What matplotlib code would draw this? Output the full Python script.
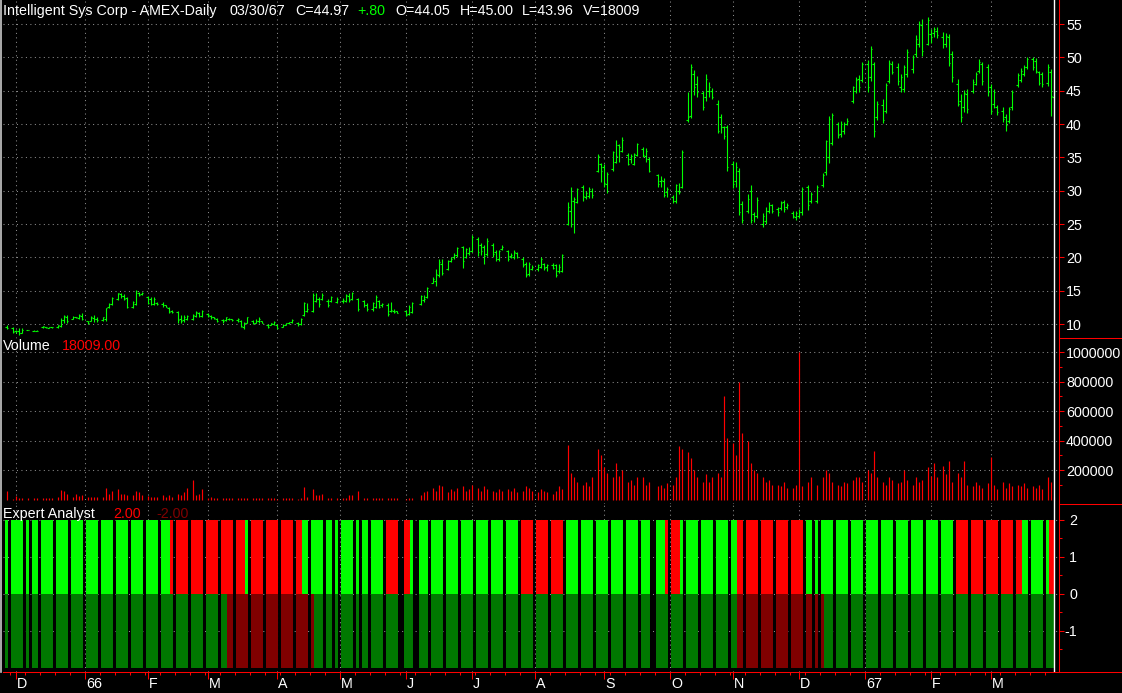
import numpy as np
import pandas as pd
import matplotlib

matplotlib.use("Agg")
import matplotlib.pyplot as plt
from matplotlib.lines import Line2D
from matplotlib.transforms import blended_transform_factory

N = None

# One row per week (Tue, Wed, Thu, Fri); None where there is no bar that day.
HIGH = [
    [N, N, N, 9.8], [9.6, 9.1, 9.35, 9.35], [9.15, N, 9.05, 9.05], [9.75, 9.55, 9.55, 9.6],
    [9.85, 10.85, 11.35, 11.35], [11.2, 11.1, 11.5, 11.7], [10.5, 11.2, 11.35, 11.0], [11.1, 12.45, 13.2, 14.1],
    [14.7, 14.7, 14.45, 14.1], [13.5, 15.1, 14.85, 14.75], [14.2, 14.0, 14.1, 13.35], [13.3, 12.85, 12.5, 12.1],
    [12.0, 11.35, 11.35, 11.35], [11.5, 11.95, 11.75, 12.1], [11.6, 11.3, 11.1, 10.85], [10.7, 11.1, 10.9, 10.8],
    [10.9, 10.6, 10.35, 11.1], [10.6, 10.7, 11.1, 10.5], [10.0, 10.2, 10.45, 10.0], [10.0, 10.2, 10.35, 10.7],
    [10.35, 10.85, 13.35, 13.2], [14.6, 14.6, 14.1, 14.6], [13.7, 14.2, N, 14.1], [13.85, 14.45, 14.6, 14.85],
    [13.85, N, 13.6, 13.1], [13.35, 14.35, 13.6, 13.2], [13.1, 13.35, 12.2, 12.0], [N, 12.1, 12.85, 13.35],
    [N, 14.35, 14.35, 15.6], [17.1, 18.2, 19.7, 19.7], [19.6, 20.1, 20.6, 21.6], [21.7, 21.45, 21.6, 23.35],
    [23.1, 22.1, 21.85, 22.85], [22.1, 21.1, 21.1, 21.85], [21.1, 20.6, 21.1, 20.85], [20.0, 19.35, 19.35, 18.85],
    [19.0, 20.0, 19.2, 19.0], [19.2, 19.0, 19.0, 20.5], [28.35, 30.6, 29.1, 30.35], [30.85, 30.0, 30.6, 30.35],
    [35.5, 34.1, 34.0, 32.8], [36.0, 37.6, 37.0, 38.0], [35.6, 35.5, 35.7, 37.2], [36.5, 36.35, 35.0, N],
    [32.5, 32.2, 31.85, 30.6], [29.35, 31.0, 31.1, 36.1], [44.85, 49.0, 48.1, 47.2], [44.95, 47.5, 46.3, 45.4],
    [43.6, 41.5, 39.7, 39.85], [34.45, 34.35, 33.45, 28.5], [29.5, 30.85, 26.85, 29.1], [26.6, 27.5, 28.25, 28.0],
    [27.5, 28.45, 28.6, 28.1], [26.95, 26.95, 27.25, 30.6], [30.85, 29.85, N, 30.85], [32.6, 37.6, 41.2, 41.6],
    [40.35, 40.45, 40.35, 40.85], [45.7, 47.1, 47.35, 49.35], [49.6, 51.7, 49.35, 43.5], [43.7, 46.1, 49.6, 49.5],
    [49.1, 47.5, 48.85, 51.2], [50.35, 53.35, 55.5, 55.7], [56.1, 54.2, 54.5, 54.5], [53.75, 53.7, 53.5, 51.0],
    [46.75, 44.5, 45.1, 45.2], [46.7, 47.85, 49.7, 49.35], [49.0, 46.0, 45.2, 42.85], [42.6, 41.5, 42.6, 45.1],
    [47.6, 48.35, 48.85, 50.1], [50.1, 49.85, 48.0, 47.85], [49.0, 48.2, 45.0, N],
]
LOW = [
    [N, N, N, 9.3], [8.6, 8.6, 8.35, 8.6], [9.05, N, 8.95, 8.95], [9.45, 9.45, 9.4, 9.45],
    [9.35, 9.6, 10.1, 10.1], [10.7, 10.9, 10.7, 10.6], [10.0, 10.4, 10.35, 10.35], [10.5, 10.5, 12.35, 12.85],
    [13.6, 13.85, 13.6, 12.35], [12.35, 12.85, 14.2, 14.35], [13.0, 12.85, 12.85, 12.85], [12.6, 12.5, 11.6, 11.6],
    [10.2, 10.2, 10.35, 10.6], [10.6, 11.0, 11.0, 11.1], [11.1, 10.8, 10.8, 10.35], [10.2, 10.5, 10.6, 10.5],
    [10.35, 9.5, 9.3, 10.1], [10.0, 10.1, 10.2, 10.1], [9.35, 9.85, 9.85, 9.2], [9.5, 9.85, 10.0, 10.2],
    [9.75, 9.85, 11.2, 11.85], [11.85, 13.35, 12.6, 13.6], [12.6, 13.35, N, 13.1], [13.2, 13.35, 13.35, 13.6],
    [12.0, N, 12.6, 12.0], [12.0, 12.35, 12.35, 12.6], [11.25, 11.85, 11.7, 11.6], [N, 11.25, 11.35, 11.6],
    [N, 12.85, 13.35, 13.85], [16.1, 15.7, 17.1, 17.35], [18.1, 19.35, 19.7, 20.1], [18.45, 19.85, 20.35, 20.85],
    [20.2, 20.35, 19.0, 20.2], [20.1, 19.5, 19.5, 21.1], [19.5, 19.85, 19.7, 19.85], [18.5, 17.1, 17.2, 18.1],
    [18.0, 18.35, 18.1, 18.0], [18.2, 17.1, 17.7, 17.85], [24.85, 24.6, 23.6, 28.1], [28.5, 28.7, 28.85, 28.85],
    [32.85, 31.35, 30.5, 29.6], [33.0, 34.1, 34.35, 35.85], [33.85, 34.2, 33.85, 35.2], [35.0, 34.35, 32.85, N],
    [30.5, 30.5, 29.1, 29.1], [28.1, 28.2, 29.5, 30.35], [40.35, 40.95, 44.35, 44.1], [42.1, 43.5, 44.0, 43.75],
    [38.6, 38.6, 37.7, 33.0], [30.45, 30.6, 26.35, 25.1], [26.7, 25.1, 25.35, 25.85], [24.5, 25.0, 26.6, 26.6],
    [26.25, 27.1, 26.85, 27.2], [25.85, 25.6, 25.85, 26.35], [27.1, 28.1, N, 28.2], [30.5, 32.35, 34.1, 36.85],
    [37.85, 38.0, 38.55, 39.85], [43.1, 44.6, 44.85, 46.35], [44.85, 46.5, 38.0, 40.6], [40.1, 41.6, 46.2, 47.5],
    [45.85, 44.85, 44.85, 47.0], [47.7, 50.1, 51.6, 50.25], [51.85, 52.1, 53.1, 52.85], [51.35, 51.6, 48.7, 46.35],
    [42.7, 40.35, 41.85, 41.7], [44.6, 45.85, 47.6, 45.85], [44.2, 41.5, 42.35, 41.35], [40.35, 39.0, 40.1, 42.1],
    [45.5, 46.35, 47.2, 48.2], [48.1, 47.6, 45.85, 45.5], [45.7, 41.2, 43.96, N],
]
OPEN = [
    [N, N, N, 9.6], [9.4, 8.9, 9.0, 8.7], [9.1, N, 9.0, 9.0], [9.5, 9.5, 9.45, 9.5],
    [9.5, 9.7, 10.6, 11.0], [10.8, 11.0, 10.9, 11.2], [10.4, 10.5, 10.9, 10.8], [10.6, 10.8, 12.5, 13.0],
    [13.8, 14.5, 14.2, 13.9], [12.5, 13.0, 14.6, 14.5], [14.0, 13.8, 13.0, 13.2], [13.0, 12.8, 12.4, 11.9],
    [11.8, 10.8, 10.6, 10.8], [10.8, 11.2, 11.6, 11.2], [11.5, 11.2, 11.0, 10.8], [10.6, 10.6, 10.8, 10.7],
    [10.6, 10.5, 9.6, 10.2], [10.5, 10.2, 10.4, 10.4], [9.9, 9.9, 10.0, 9.9], [9.6, 9.9, 10.1, 10.3],
    [10.2, 10.0, 11.3, 12.0], [12.0, 13.5, 13.8, 13.8], [13.5, 13.4, N, 13.3], [13.4, 13.5, 14.2, 13.8],
    [13.8, N, 13.4, 12.9], [12.2, 12.5, 13.4, 12.8], [12.9, 12.0, 12.0, 11.9], [N, 11.9, 11.5, 11.8],
    [N, 13.0, 13.6, 14.0], [16.2, 16.5, 17.3, 19.0], [18.3, 19.5, 20.0, 20.3], [21.5, 20.0, 20.6, 21.0],
    [22.8, 21.8, 21.5, 20.5], [21.8, 20.8, 19.8, 21.2], [20.9, 20.2, 20.0, 20.6], [19.8, 19.0, 17.5, 18.3],
    [18.3, 18.5, 19.0, 18.5], [18.8, 18.8, 17.9, 18.0], [25.0, 27.0, 28.5, 28.3], [30.5, 29.0, 29.2, 30.0],
    [33.0, 34.0, 33.5, 31.0], [33.2, 34.3, 36.8, 36.0], [35.4, 34.8, 34.0, 35.4], [36.3, 35.2, 34.8, N],
    [32.3, 31.5, 31.5, 29.8], [29.0, 28.5, 30.0, 30.5], [40.6, 41.2, 47.5, 46.0], [44.6, 44.0, 45.0, 45.0],
    [43.0, 41.0, 39.5, 39.5], [34.0, 31.5, 33.0, 28.0], [27.0, 30.0, 26.5, 26.2], [25.0, 25.5, 27.0, 27.8],
    [27.2, 27.4, 28.3, 27.5], [26.6, 26.0, 26.2, 26.8], [30.5, 28.5, N, 28.5], [30.8, 32.8, 35.0, 37.2],
    [40.0, 38.5, 39.0, 40.0], [43.5, 45.0, 46.8, 46.6], [49.0, 47.0, 49.0, 41.0], [42.8, 42.0, 46.5, 49.0],
    [48.5, 45.5, 45.2, 47.5], [48.2, 50.5, 52.0, 54.8], [52.0, 53.5, 53.6, 54.0], [53.0, 52.0, 53.0, 50.5],
    [46.0, 43.5, 42.5, 44.5], [45.0, 46.0, 48.0, 49.0], [48.5, 45.5, 43.0, 42.5], [42.0, 41.0, 40.5, 42.5],
    [45.8, 46.6, 47.5, 48.5], [49.8, 49.5, 47.8, 47.5], [46.2, 47.8, 44.05, N],
]
CLOSE = [
    [N, N, N, 9.4], [8.8, 8.9, 8.7, 9.1], [9.1, N, 9.0, 9.0], [9.7, 9.5, 9.5, 9.55],
    [9.8, 10.6, 11.2, 10.5], [11.1, 11.0, 11.3, 10.8], [10.2, 11.0, 10.8, 10.6], [11.0, 12.4, 13.0, 13.9],
    [14.6, 14.2, 13.8, 12.6], [13.3, 14.9, 14.4, 14.6], [13.2, 13.0, 13.8, 13.0], [12.8, 12.6, 11.8, 11.8],
    [10.6, 10.5, 11.0, 11.2], [11.3, 11.8, 11.2, 12.0], [11.3, 11.0, 10.9, 10.5], [10.4, 11.0, 10.7, 10.6],
    [10.8, 9.7, 10.2, 11.0], [10.2, 10.5, 10.8, 10.2], [9.5, 10.1, 10.3, 9.4], [9.9, 10.1, 10.3, 10.6],
    [10.0, 10.8, 13.2, 12.3], [14.4, 13.8, 13.0, 14.4], [12.8, 14.0, N, 13.8], [13.6, 14.3, 13.6, 14.7],
    [12.3, N, 12.8, 12.2], [13.1, 14.0, 12.6, 13.0], [11.5, 12.1, 11.8, 11.7], [N, 11.4, 12.6, 13.2],
    [N, 14.2, 13.8, 15.4], [16.8, 17.5, 19.3, 17.6], [19.4, 19.8, 20.4, 21.4], [19.5, 21.3, 21.0, 23.0],
    [20.8, 21.0, 20.2, 22.4], [20.5, 19.8, 20.9, 21.6], [19.8, 20.4, 20.8, 20.0], [18.8, 17.4, 19.0, 18.6],
    [18.8, 19.8, 18.4, 18.8], [18.4, 17.4, 18.6, 20.3], [27.5, 25.0, 28.8, 30.2], [29.2, 29.6, 30.3, 29.3],
    [35.2, 33.0, 31.2, 32.5], [35.8, 35.2, 36.5, 37.6], [34.0, 35.2, 35.5, 37.0], [35.4, 36.0, 33.0, N],
    [31.0, 31.6, 29.4, 30.3], [28.4, 30.8, 29.8, 35.8], [41.0, 48.5, 45.5, 44.8], [42.6, 46.8, 45.5, 44.0],
    [39.0, 39.5, 38.2, 33.5], [31.0, 33.5, 26.8, 25.6], [28.8, 25.6, 26.2, 28.6], [26.2, 27.0, 27.8, 26.9],
    [26.8, 28.2, 27.2, 27.8], [26.2, 26.6, 26.8, 30.3], [27.8, 29.5, N, 30.6], [32.3, 37.4, 40.8, 41.3],
    [38.3, 40.0, 40.0, 40.5], [45.5, 46.6, 45.5, 49.0], [45.5, 51.2, 39.0, 43.0], [40.6, 45.8, 49.2, 47.8],
    [46.5, 47.0, 48.5, 50.8], [50.0, 52.8, 55.0, 51.0], [55.6, 53.0, 54.2, 53.3], [52.0, 53.2, 49.2, 47.0],
    [43.0, 41.0, 44.6, 42.2], [46.3, 47.5, 49.3, 46.5], [44.8, 42.0, 44.8, 41.8], [40.8, 39.8, 42.3, 44.8],
    [47.3, 48.0, 48.6, 49.8], [48.5, 48.0, 46.2, 46.0], [48.6, 44.17, 44.97, N],
]
# daily volume, thousands of shares
VOLUME_K = [
    [N, N, N, 55], [5, 22, 8, 8], [8, N, 8, 8], [8, 8, 8, 8],
    [15, 65, 55, 40], [20, 35, 25, 30], [15, 20, 15, 20], [15, 80, 35, 60],
    [70, 35, 35, 30], [30, 55, 50, 30], [25, 20, 20, 20], [30, 20, 30, 15],
    [40, 30, 50, 80], [130, 30, 40, 70], [10, 15, 8, 8], [8, 8, 10, 8],
    [8, 10, 8, 8], [10, 8, 8, 10], [8, 10, 8, 5], [8, 10, 10, 10],
    [5, 10, 85, 20], [70, 30, 30, 40], [10, 10, N, 10], [10, 10, 30, 30],
    [60, N, 10, 10], [10, 10, 8, 8], [8, 10, 8, 8], [N, 5, 8, 10],
    [N, 30, 50, 60], [80, 60, 100, 90], [50, 70, 60, 80], [90, 60, 70, 100],
    [80, 60, 90, 70], [60, 50, 70, 60], [70, 60, 80, 50], [60, 90, 80, 60],
    [50, 70, 60, 50], [40, 60, 90, 70], [370, 180, 150, 120], [100, 120, 90, 150],
    [340, 300, 220, 180], [150, 250, 160, 200], [120, 130, 100, 150], [150, 100, 120, N],
    [90, 100, 80, 110], [100, 150, 360, 340], [320, 280, 200, 150], [120, 170, 120, 150],
    [180, 150, 700, 420], [380, 300, 800, 450], [400, 250, 200, 180], [150, 120, 130, 100],
    [100, 90, 120, 80], [80, 100, 1000, 90], [120, 150, N, 100], [150, 200, 180, 120],
    [100, 90, 120, 110], [130, 150, 150, 120], [200, 180, 330, 150], [120, 100, 150, 130],
    [110, 120, 200, 130], [100, 150, 120, 130], [220, 160, 250, 150], [230, 170, 260, 120],
    [180, 150, 260, 100], [90, 120, 100, 80], [110, 290, 100, 70], [120, 80, 110, 90],
    [100, 90, 110, 80], [90, 80, 100, 70], [150, 120, 18.009, N],
]
# Expert Analyst: upper half (G buy / R sell), lower half (g / r); "-" = no bar
EXPERT_UPPER = [
    "---G", "GGGG", "G-GG", "GGGG", "GGGG", "GGGG", "GGGG", "GGGG", "GGGG", "GGGG", "GGGG", "GGGR",
    "RRRR", "RRRR", "RRRR", "RRRR", "RRRG", "RRRR", "RRRR", "RRRR", "RRGG", "GGGG", "GG-G", "GGGG",
    "G-GG", "GGGG", "RRRR", "-RRG", "-GGG", "GGGG", "GGGG", "GGGG", "GGGG", "GGGG", "GGGG", "RRRR",
    "RRRR", "RRRR", "GGGG", "GGGG", "GGGG", "GGGG", "GGGG", "GGG-", "GGGR", "RRRG", "GGGG", "GGGG",
    "GGGG", "GGRR", "RRRR", "RRRR", "RRRR", "RRRR", "GG-G", "GGGG", "GGGG", "GGGG", "GGGG", "GGGG",
    "GGGG", "GGGG", "GGGG", "GGGG", "RRRR", "RRRR", "RRRR", "RRRR", "RRGG", "GGGG", "GRR-",
]
EXPERT_LOWER = [
    "---g", "gggg", "g-gg", "gggg", "gggg", "gggg", "gggg", "gggg", "gggg", "gggg", "gggg", "gggg",
    "gggg", "gggg", "gggg", "ggrr", "rrrr", "rrrr", "rrrr", "rrrr", "rrrr", "rggg", "gg-g", "gggg",
    "g-gg", "gggg", "gggg", "-ggg", "-ggg", "gggg", "gggg", "gggg", "gggg", "gggg", "gggg", "gggg",
    "gggg", "gggg", "gggg", "gggg", "gggg", "gggg", "gggg", "ggg-", "gggg", "gggg", "gggg", "gggg",
    "gggg", "ggrr", "rrrr", "rrrr", "rrrr", "rrrr", "rr-r", "rggg", "gggg", "gggg", "gggg", "gggg",
    "gggg", "gggg", "gggg", "gggg", "gggg", "gggg", "gggg", "gggg", "gggg", "gggg", "ggg-",
]
MONTH_LABELS = ["D", "66", "F", "M", "A", "M", "J", "J", "A", "S", "O", "N", "D", "67", "F", "M"]
PRICE_TICKS = [10, 15, 20, 25, 30, 35, 40, 45, 50, 55]
VOLUME_TICKS = [200000, 400000, 600000, 800000, 1000000]
EXPERT_TICKS = [2, 1, 0, -1]

HEADER = [
    ("Intelligent Sys Corp - AMEX-Daily", 3, "white"),
    ("03/30/67", 230, "white"),
    ("C=44.97", 295, "white"),
    ("+.80", 357, "#00ff00"),
    ("O=44.05", 395, "white"),
    ("H=45.00", 460, "white"),
    ("L=43.96", 522, "white"),
    ("V=18009", 583, "white"),
]

GREEN = "#00ff00"
RED = "#ff0000"
DARK_GREEN = "#007800"
DARK_RED = "#800000"
GRID = "#8c8c8c"
DOTS = (0, (1, 3.3))

plt.rcParams["font.family"] = ["Liberation Sans", "DejaVu Sans"]
plt.rcParams["axes.unicode_minus"] = False
FS = 10.3
W, H = 1122, 693
LEFT, RIGHT = 3, 1059


def flatten(rows):
    xs, vals = [], []
    for k, row in enumerate(rows):
        for d, v in enumerate(row):
            if v is None or v == "-":
                continue
            xs.append(5 * k - 3 + d)
            vals.append(v)
    return np.array(xs), vals


# trading-slot axis: every weekday gets a slot (Mondays stay empty)
days = pd.bdate_range("1965-11-26", "1967-03-30")
month_idx = [i for i in range(1, len(days)) if days[i].month != days[i - 1].month]
monday_idx = [i for i, d in enumerate(days) if d.weekday() == 0]
x0 = (LEFT - 6.5) / 3
x1 = (RIGHT - 6.5) / 3


def rect(top, bottom):
    return [LEFT / W, 1 - bottom / H, (RIGHT - LEFT) / W, (bottom - top) / H]


fig = plt.figure(figsize=(W / 100, H / 100), dpi=100, facecolor="black")
ax_p = fig.add_axes(rect(0, 338))
ax_v = fig.add_axes(rect(338, 504))
ax_e = fig.add_axes(rect(504, 672))

for ax, ticks in ((ax_p, PRICE_TICKS), (ax_v, VOLUME_TICKS), (ax_e, EXPERT_TICKS)):
    ax.set_facecolor("black")
    ax.set_xlim(x0, x1)
    for side in ("top", "left", "bottom"):
        ax.spines[side].set_visible(False)
    ax.spines["right"].set_color(RED)
    ax.spines["right"].set_linewidth(0.75)
    ax.yaxis.tick_right()
    ax.set_yticks(ticks)
    ax.set_yticklabels([str(t) for t in ticks])
    ax.tick_params(axis="y", which="major", direction="out", length=3.6, width=0.75,
                   color=RED, labelcolor="white", labelsize=FS, pad=1.5)
    ax.tick_params(axis="y", which="minor", direction="out", length=1.8, width=0.75, color=RED)
    ax.tick_params(axis="x", which="both", bottom=False, labelbottom=False)
    for m in month_idx:
        ax.axvline(m, color=GRID, lw=0.75, ls=DOTS, zorder=0)
    for t in ticks:
        ax.axhline(t, color=GRID, lw=0.75, ls=DOTS, zorder=0)
    ax.axvline(349.2, color="white", lw=1.0, zorder=5)

# price bars
ax_p.set_ylim(7.9, 58.6)
xs, hi = flatten(HIGH)
_, lo = flatten(LOW)
_, op = flatten(OPEN)
_, cl = flatten(CLOSE)
ax_p.vlines(xs, lo, hi, color=GREEN, lw=0.8, zorder=3)
ax_p.hlines(op, xs - 0.65, xs, color=GREEN, lw=0.8, zorder=3)
ax_p.hlines(cl, xs, xs + 0.65, color=GREEN, lw=0.8, zorder=3)

# volume
ax_v.set_ylim(-30500, 1095000)
ax_v.set_yticks(np.arange(100000, 1000001, 200000), minor=True)
xv, vol = flatten(VOLUME_K)
ax_v.vlines(xv, 0, np.array(vol) * 1000, color=RED, lw=0.85, zorder=3)

# expert analyst
ax_e.set_ylim(-2.11, 2.43)
ax_e.set_yticks([1.5, 0.5, -0.5, -1.5], minor=True)
for lbl in ax_e.get_yticklabels():
    lbl.set_horizontalalignment("right")
ax_e.tick_params(axis="y", which="major", pad=9.4)
xu, up = flatten([list(s) for s in EXPERT_UPPER])
xl, dn = flatten([list(s) for s in EXPERT_LOWER])
ax_e.bar(xu, 2, width=1.02, bottom=0, color=[GREEN if c == "G" else RED for c in up],
         linewidth=0, zorder=2)
ax_e.bar(xl, -2, width=1.02, bottom=0, color=[DARK_GREEN if c == "g" else DARK_RED for c in dn],
         linewidth=0, zorder=2)

# bottom date axis
ax_e.spines["bottom"].set_visible(True)
ax_e.spines["bottom"].set_color(RED)
ax_e.spines["bottom"].set_linewidth(0.75)
ax_e.set_xticks(month_idx)
ax_e.set_xticks(monday_idx, minor=True)
ax_e.tick_params(axis="x", which="major", bottom=True, direction="out", length=5, width=0.75, color=RED)
ax_e.tick_params(axis="x", which="minor", bottom=True, direction="out", length=2.2, width=0.75, color=RED)
trans = blended_transform_factory(ax_e.transData, fig.transFigure)
for m, lab in zip(month_idx, MONTH_LABELS):
    ax_e.text(m + 0.5, 1 - 688 / H, lab, transform=trans, color="white", fontsize=FS,
              ha="left", va="baseline", clip_on=False)

# panel separators on the scale side
for y in (338, 504, 672):
    fig.add_artist(Line2D([RIGHT / W, 1], [1 - y / H, 1 - y / H], color=RED, lw=0.75))
fig.add_artist(Line2D([1 / W, 1 / W], [1 - 672 / H, 1], color="#c8c8c8", lw=1.2))

# header texts
for text, x, color in HEADER:
    fig.text(x / W, 1 - 15 / H, text, color=color, fontsize=FS, ha="left", va="baseline")
fig.text(3 / W, 1 - 350.5 / H, "Volume", color="white", fontsize=FS, va="baseline")
fig.text(62 / W, 1 - 350.5 / H, "18009.00", color=RED, fontsize=FS, va="baseline")
fig.text(3 / W, 1 - 518 / H, "Expert Analyst", color="white", fontsize=FS, va="baseline")
fig.text(113 / W, 1 - 518 / H, "2.00", color=RED, fontsize=FS, va="baseline")
fig.text(156 / W, 1 - 518 / H, "-2.00", color=DARK_RED, fontsize=FS, va="baseline")

fig.savefig("out.png", dpi=100, facecolor="black")
